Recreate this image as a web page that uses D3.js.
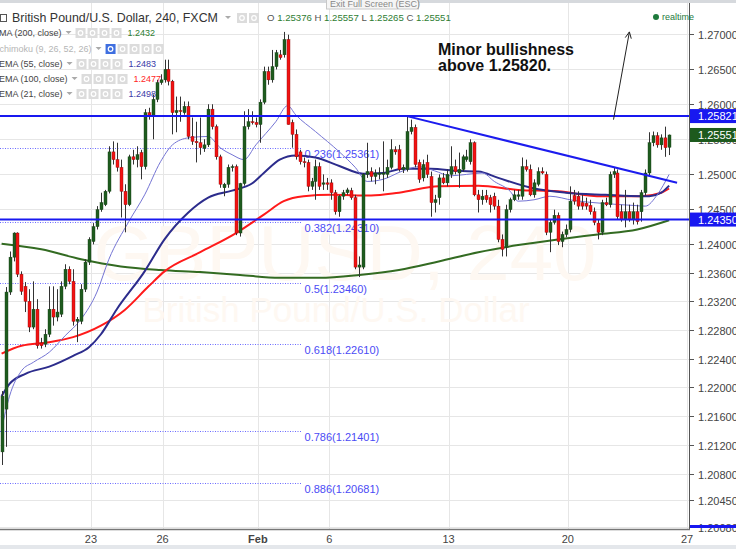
<!DOCTYPE html>
<html><head><meta charset="utf-8">
<script src="https://cdn.jsdelivr.net/npm/d3@7"></script>
<style>
body{margin:0;background:#fff;}
svg{display:block;font-family:"Liberation Sans",Arial,sans-serif;}
</style></head>
<body><svg id="c" width="736" height="549"></svg>
<script>
// ---------- DATA ----------
const open = [1.2111,1.2170,1.2333,1.2382,1.2416,1.2358,1.2341,1.2320,1.2284,1.2309,1.2262,1.2260,1.2274,1.2309,1.2298,1.2302,1.2341,1.2365,1.2348,1.2292,1.2292,1.2337,1.2375,1.2404,1.2425,1.2449,1.2456,1.2475,1.2531,1.2520,1.2509,1.2475,1.2456,1.2524,1.2520,1.2530,1.2510,1.2587,1.2582,1.2606,1.2630,1.2634,1.2649,1.2632,1.2587,1.2590,1.2587,1.2596,1.2553,1.2546,1.2544,1.2536,1.2541,1.2592,1.2567,1.2524,1.2480,1.2485,1.2509,1.2510,1.2416,1.2486,1.2567,1.2574,1.2573,1.2570,1.2602,1.2646,1.2634,1.2653,1.2670,1.2670,1.2692,1.2573,1.2556,1.2531,1.2517,1.2516,1.2482,1.2489,1.2510,1.2485,1.2487,1.2487,1.2473,1.2446,1.2468,1.2473,1.2476,1.2466,1.2368,1.2368,1.2499,1.2503,1.2496,1.2499,1.2499,1.2499,1.2509,1.2534,1.2534,1.2506,1.2506,1.2560,1.2566,1.2516,1.2494,1.2516,1.2496,1.2459,1.2466,1.2494,1.2487,1.2499,1.2510,1.2501,1.2506,1.2520,1.2517,1.2544,1.2470,1.2463,1.2469,1.2466,1.2468,1.2454,1.2407,1.2396,1.2449,1.2463,1.2468,1.2468,1.2510,1.2506,1.2470,1.2485,1.2503,1.2499,1.2417,1.2431,1.2441,1.2404,1.2414,1.2421,1.2469,1.2468,1.2459,1.2458,1.2455,1.2446,1.2430,1.2417,1.2459,1.2456,1.2499,1.2501,1.2446,1.2435,1.2446,1.2435,1.2446,1.2446,1.2473,1.2501,1.2544,1.2554,1.2541,1.2551,1.25376];
const high = [1.2195,1.2340,1.2390,1.2417,1.2417,1.2362,1.2347,1.2337,1.2348,1.2323,1.2269,1.2281,1.2341,1.2341,1.2337,1.2348,1.2372,1.2369,1.2365,1.2298,1.2344,1.2379,1.2410,1.2430,1.2454,1.2473,1.2477,1.2539,1.2546,1.2544,1.2520,1.2485,1.2527,1.2534,1.2539,1.2534,1.2592,1.2594,1.2613,1.2634,1.2642,1.2663,1.2663,1.2634,1.2610,1.2610,1.2603,1.2603,1.2580,1.2574,1.2580,1.2549,1.2599,1.2599,1.2570,1.2527,1.2487,1.2513,1.2513,1.2513,1.2487,1.2589,1.2592,1.2589,1.2580,1.2606,1.2653,1.2653,1.2677,1.2677,1.2677,1.2703,1.2699,1.2577,1.2563,1.2534,1.2523,1.2520,1.2494,1.2520,1.2516,1.2499,1.2494,1.2492,1.2477,1.2470,1.2477,1.2480,1.2480,1.2470,1.2383,1.2501,1.2544,1.2509,1.2506,1.2509,1.2546,1.2520,1.2549,1.2539,1.2541,1.2513,1.2582,1.2577,1.2570,1.2520,1.2520,1.2527,1.2503,1.2470,1.2499,1.2501,1.2506,1.2539,1.2520,1.2530,1.2527,1.2534,1.2549,1.2546,1.2477,1.2477,1.2477,1.2470,1.2473,1.2463,1.2414,1.2456,1.2466,1.2477,1.2477,1.2523,1.2520,1.2513,1.2492,1.2509,1.2509,1.2503,1.2435,1.2449,1.2445,1.2418,1.2428,1.2482,1.2477,1.2475,1.2470,1.2466,1.2463,1.2452,1.2435,1.2463,1.2466,1.2503,1.2509,1.2506,1.2456,1.2477,1.2456,1.2459,1.2456,1.2477,1.2506,1.2559,1.2560,1.2559,1.2556,1.2567,1.25557];
const low = [1.2093,1.2118,1.2329,1.2376,1.2354,1.2329,1.2305,1.2277,1.2281,1.2254,1.2254,1.2256,1.2270,1.2286,1.2292,1.2298,1.2337,1.2344,1.2286,1.2263,1.2288,1.2333,1.2371,1.2400,1.2421,1.2446,1.2454,1.2472,1.2513,1.2503,1.2438,1.2417,1.2454,1.2513,1.2509,1.2492,1.2506,1.2577,1.2549,1.2602,1.2627,1.2630,1.2626,1.2556,1.2559,1.2574,1.2584,1.2549,1.2541,1.2516,1.2527,1.2531,1.2538,1.2563,1.2520,1.2480,1.2468,1.2480,1.2503,1.2413,1.2411,1.2483,1.2563,1.2570,1.2566,1.2544,1.2599,1.2627,1.2630,1.2649,1.2663,1.2666,1.2570,1.2537,1.2520,1.2513,1.2509,1.2475,1.2477,1.2463,1.2477,1.2477,1.2477,1.2463,1.2442,1.2439,1.2463,1.2470,1.2463,1.2365,1.2354,1.2365,1.2494,1.2489,1.2485,1.2492,1.2475,1.2494,1.2506,1.2527,1.2503,1.2501,1.2503,1.2556,1.2509,1.2487,1.2489,1.2494,1.2439,1.2445,1.2456,1.2485,1.2482,1.2494,1.2499,1.2480,1.2503,1.2517,1.2513,1.2468,1.2445,1.2456,1.2459,1.2445,1.2449,1.2403,1.2383,1.2383,1.2445,1.2461,1.2463,1.2463,1.2503,1.2468,1.2466,1.2482,1.2499,1.2413,1.2389,1.2428,1.2399,1.2396,1.2410,1.2417,1.2456,1.2449,1.2449,1.2449,1.2442,1.2427,1.2407,1.2413,1.2454,1.2452,1.2494,1.2435,1.2432,1.2424,1.2432,1.2428,1.2428,1.2432,1.2469,1.2497,1.2539,1.2537,1.2534,1.2524,1.25265];
const close = [1.2188,1.2333,1.2382,1.2416,1.2358,1.2334,1.2320,1.2284,1.2309,1.2258,1.2258,1.2274,1.2309,1.2298,1.2305,1.2341,1.2365,1.2348,1.2292,1.2295,1.2337,1.2375,1.2407,1.2425,1.2449,1.2459,1.2475,1.2531,1.2520,1.2509,1.2475,1.2456,1.2524,1.2520,1.2527,1.2510,1.2587,1.2582,1.2606,1.2630,1.2634,1.2649,1.2632,1.2587,1.2590,1.2589,1.2596,1.2553,1.2546,1.2544,1.2537,1.2541,1.2592,1.2567,1.2524,1.2485,1.2485,1.2509,1.2510,1.2416,1.2486,1.2567,1.2574,1.2573,1.2570,1.2602,1.2646,1.2634,1.2653,1.2673,1.2666,1.2692,1.2570,1.2556,1.2524,1.2517,1.2516,1.2482,1.2489,1.2510,1.2482,1.2487,1.2485,1.2473,1.2446,1.2468,1.2473,1.2477,1.2466,1.2368,1.2371,1.2499,1.2503,1.2496,1.2501,1.2501,1.2501,1.2509,1.2534,1.2531,1.2506,1.2509,1.2560,1.2566,1.2513,1.2492,1.2513,1.2499,1.2459,1.2463,1.2494,1.2487,1.2499,1.2510,1.2503,1.2506,1.2524,1.2524,1.2544,1.2470,1.2463,1.2468,1.2463,1.2456,1.2454,1.2407,1.2393,1.2449,1.2463,1.2470,1.2470,1.2510,1.2506,1.2470,1.2487,1.2503,1.2501,1.2417,1.2431,1.2441,1.2404,1.2414,1.2421,1.2461,1.2461,1.2454,1.2454,1.2454,1.2446,1.2431,1.2417,1.2459,1.2456,1.2499,1.2503,1.2439,1.2435,1.2446,1.2435,1.2446,1.2432,1.2473,1.2501,1.2544,1.2554,1.2541,1.2551,1.2537,1.25551];

// indicator lines: [candle index, price]
const sma200 = [[0,1.2401],[10,1.2393],[20,1.2379],[30,1.2369],[40,1.2364],[50,1.2361],[60,1.2357],[70,1.2353],[80,1.2353],[90,1.2357],[100,1.2364],[110,1.2376],[120,1.2389],[130,1.2399],[140,1.2407],[150,1.2414],[160,1.2421],[168,1.2434]];
const ema100 = [[0,1.2247],[5,1.2258],[12,1.2263],[18,1.2270],[25,1.2286],[31,1.2308],[37,1.2341],[41,1.2362],[50,1.2389],[59,1.2416],[66,1.2442],[71,1.2461],[76,1.2468],[83,1.2470],[93,1.2469],[100,1.2473],[110,1.2482],[120,1.2483],[130,1.2477],[140,1.2475],[151,1.2468],[161,1.2468],[166,1.2473],[168,1.2479]];
const ema55 = [[0,1.2188],[2,1.2205],[6,1.2219],[12,1.2229],[18,1.2244],[22,1.2256],[25,1.2274],[29,1.2309],[36,1.2362],[41,1.2407],[47,1.2445],[52,1.2466],[58,1.2476],[63,1.2486],[66,1.2501],[70,1.2520],[74,1.2526],[79,1.2523],[85,1.2511],[91,1.2500],[96,1.2501],[101,1.2507],[108,1.2507],[115,1.2504],[120,1.2503],[125,1.2494],[134,1.2479],[142,1.2473],[152,1.2470],[161,1.2468],[163,1.2468],[166,1.2473],[168,1.2483]];
const ema21 = [[0,1.2142],[2,1.2188],[5,1.2223],[8,1.2235],[12,1.2249],[16,1.2272],[20,1.2295],[24,1.2333],[27,1.2379],[32,1.2432],[36,1.2470],[40,1.2517],[43,1.2541],[47,1.2551],[52,1.2553],[55,1.2537],[58,1.2527],[61,1.2520],[64,1.2541],[69,1.2574],[72,1.2597],[74,1.2584],[79,1.2560],[85,1.2531],[89,1.2509],[92,1.2489],[96,1.2492],[101,1.2504],[105,1.2510],[109,1.2504],[113,1.2497],[117,1.2499],[121,1.2501],[124,1.2489],[128,1.2475],[130,1.2461],[134,1.2463],[138,1.2468],[144,1.2462],[151,1.2458],[159,1.2455],[162,1.2454],[165,1.2470],[168,1.2499]];

const yTicks = [1.27,1.265,1.26,1.255,1.25,1.245,1.24,1.236,1.232,1.228,1.224,1.22,1.216,1.212,1.208,1.2045,1.2008];
const dayLabels = ["23","26","Feb","6","13","20","27"];
const dayIndex = [22.5,40.5,64.5,82.5,112.5,142.5,172.5];

const levelPrices = [1.25821, 1.2435];
const fibRatios = ["0.236","0.382","0.5","0.618","0.786","0.886"];
const fibPrices = [1.25361,1.2431,1.2346,1.2261,1.21401,1.20681];
const fibRange = [-0.4, 75.5];
const trendIdx = [102,170], trendPrice = [1.2582,1.2487];
const arrowIdx = [154,158], arrowPrice = [1.2577,1.2703];

const legendRows = [
  {name:"MA (200, close)", value:"1.2432", color:"#2e7d32"},
  {name:"Ichimoku (9, 26, 52, 26)", value:"", color:"#aaa"},
  {name:"EMA (55, close)", value:"1.2483", color:"#3a3aa8"},
  {name:"EMA (100, close)", value:"1.2477", color:"#ff1f1f"},
  {name:"EMA (21, close)", value:"1.2498", color:"#3a3aa8"}
];
const ohlcLabels = ["O","H","L","C"];
const ohlcValues = ["1.25376","1.25557","1.25265","1.25551"];

// ---------- CHART ----------
const svg = d3.select("#c");
const PR = 689, PB = 529;
const x = d3.scaleLinear().domain([-0.4,173]).range([0,PR]);
const y = d3.scaleLog().domain([1.200672,1.274916]).range([528,0]);

svg.append("rect").attr("width",736).attr("height",549).attr("fill","#fff");
svg.append("defs").append("clipPath").attr("id","plot").append("rect").attr("width",PR).attr("height",PB);

// grid
const grid = svg.append("g").attr("clip-path","url(#plot)");
grid.selectAll(".hg").data(yTicks).enter().append("line")
  .attr("x1",0).attr("x2",PR).attr("y1",d=>Math.round(y(d))+0.5).attr("y2",d=>Math.round(y(d))+0.5)
  .attr("stroke","#e6e6e6");
grid.selectAll(".vg").data(dayIndex).enter().append("line")
  .attr("y1",0).attr("y2",PB).attr("x1",d=>Math.round(x(d))+0.5).attr("x2",d=>Math.round(x(d))+0.5)
  .attr("stroke","#e6e6e6");

// watermark
const wm = svg.append("g").attr("fill","#fef8f2").attr("text-anchor","middle");
wm.append("text").attr("x",345).attr("y",280).attr("font-size",78).text("GBPUSD, 240");
wm.append("text").attr("x",336).attr("y",322).attr("font-size",35).text("British Pound/U.S. Dollar");

const plot = svg.append("g").attr("clip-path","url(#plot)");

// fib lines
fibPrices.forEach((p,i)=>{
  const yy = Math.round(y(p))+0.5;
  plot.append("line").attr("x1",x(fibRange[0])).attr("x2",x(fibRange[1])).attr("y1",yy).attr("y2",yy)
    .attr("stroke","#6b6bff").attr("stroke-dasharray","1,1.5");
  plot.append("text").attr("x",x(fibRange[1])+3).attr("y",yy+9).attr("font-size",11).attr("fill","#4b4bf5")
    .text(fibRatios[i]+"("+d3.format(".5f")(p)+")");
});

// indicator lines
const line = d3.line().x(d=>x(d[0])).y(d=>y(d[1])).curve(d3.curveMonotoneX);
plot.append("path").datum(sma200).attr("d",line).attr("fill","none").attr("stroke","#336b22").attr("stroke-width",2);
plot.append("path").datum(ema100).attr("d",line).attr("fill","none").attr("stroke","#ff1a1a").attr("stroke-width",2);
plot.append("path").datum(ema55).attr("d",line).attr("fill","none").attr("stroke","#2c2c8c").attr("stroke-width",2);
plot.append("path").datum(ema21).attr("d",line).attr("fill","none").attr("stroke","#7474d4").attr("stroke-width",1);

// candles
const idx = d3.range(open.length);
const cg = plot.append("g");
cg.selectAll(".w").data(idx).enter().append("line")
  .attr("x1",i=>Math.round(x(i))+0.5).attr("x2",i=>Math.round(x(i))+0.5)
  .attr("y1",i=>y(high[i])).attr("y2",i=>y(low[i])).attr("stroke","#333").attr("stroke-width",1);
cg.selectAll(".b").data(idx).enter().append("rect")
  .attr("x",i=>Math.round(x(i))-1).attr("width",3)
  .attr("y",i=>y(Math.max(open[i],close[i])))
  .attr("height",i=>Math.max(1,Math.abs(y(open[i])-y(close[i]))))
  .attr("fill",i=>close[i]>=open[i]?"#1e5c1e":"#f21212")
  .attr("stroke",i=>close[i]>=open[i]?"#143f14":"#8a0c0c").attr("stroke-width",0.4);

// horizontal levels
levelPrices.forEach(p=>{
  plot.append("line").attr("x1",0).attr("x2",PR).attr("y1",y(p)).attr("y2",y(p)).attr("stroke","#1818f0").attr("stroke-width",2);
});
// trendline
plot.append("line").attr("x1",x(trendIdx[0])).attr("y1",y(trendPrice[0])).attr("x2",x(trendIdx[1])).attr("y2",y(trendPrice[1]))
  .attr("stroke","#1c1cee").attr("stroke-width",2);
// arrow
const x1=x(arrowIdx[0]),y1=y(arrowPrice[0]),x2=x(arrowIdx[1]),y2=y(arrowPrice[1]);
const ang=Math.atan2(y2-y1,x2-x1);
svg.append("line").attr("x1",x1).attr("y1",y1).attr("x2",x2).attr("y2",y2).attr("stroke","#222").attr("stroke-width",1);
[0.45,-0.45].forEach(a=>{
  svg.append("line").attr("x1",x2).attr("y1",y2)
    .attr("x2",x2-7*Math.cos(ang+a)).attr("y2",y2-7*Math.sin(ang+a)).attr("stroke","#222");
});

// annotation
const ann = svg.append("text").attr("font-size",16).attr("font-weight","bold").attr("fill","#111");
ann.append("tspan").attr("x",438).attr("y",55).text("Minor bullishness");
ann.append("tspan").attr("x",438).attr("y",71).text("above 1.25820.");

// axes
svg.append("line").attr("x1",PR+0.5).attr("x2",PR+0.5).attr("y1",0).attr("y2",PB).attr("stroke","#555");
svg.append("line").attr("x1",0).attr("x2",PR+1).attr("y1",PB+0.5).attr("y2",PB+0.5).attr("stroke","#777").attr("stroke-width",1.5);
const ya = svg.append("g");
yTicks.forEach(t=>{
  const yy=Math.round(y(t))+0.5;
  ya.append("line").attr("x1",PR).attr("x2",PR+5).attr("y1",yy).attr("y2",yy).attr("stroke","#555");
  ya.append("text").attr("x",PR+9).attr("y",yy+4).attr("font-size",11).attr("fill","#444").text(d3.format(".5f")(t));
});
dayIndex.forEach((d,i)=>{
  svg.append("text").attr("x",x(d)).attr("y",543).attr("text-anchor","middle").attr("font-size",11)
    .attr("fill","#444").attr("font-weight",dayLabels[i]==="Feb"?"bold":"normal").text(dayLabels[i]);
});
svg.append("rect").attr("x",0).attr("y",545).attr("width",736).attr("height",4).attr("fill","#e4e7eb");

// price boxes
function pbox(p,fill){
  const yy=y(p);
  svg.append("rect").attr("x",PR+1).attr("y",yy-7).attr("width",736-PR).attr("height",14).attr("fill",fill);
  svg.append("text").attr("x",PR+9).attr("y",yy+4).attr("font-size",11).attr("fill","#fff").text(d3.format(".5f")(p));
}
pbox(levelPrices[0],"#1818f0");
pbox(close[close.length-1],"#1d5a1d");
pbox(levelPrices[1],"#1818f0");
svg.append("rect").attr("x",PR+1).attr("y",525).attr("width",736-PR).attr("height",3).attr("fill","#1818f0");

// header
svg.append("rect").attr("x",0).attr("y",0).attr("width",736).attr("height",3).attr("fill","#d6d9dd");
const tip = svg.append("g");
tip.append("rect").attr("x",326.5).attr("y",-3).attr("width",92).attr("height",12).attr("fill","#f5f5f5").attr("stroke","#c8c8c8");
tip.append("text").attr("x",330).attr("y",7).attr("font-size",9).attr("fill","#888").text("Exit Full Screen (ESC)");

svg.append("rect").attr("x",0.5).attr("y",14.5).attr("width",6).attr("height",7).attr("fill","none").attr("stroke","#555");
svg.append("text").attr("x",12).attr("y",22).attr("font-size",12.4).attr("fill","#333").text("British Pound/U.S. Dollar, 240, FXCM");

function caret(cx,cy){svg.append("path").attr("d",`M${cx-3},${cy-2}L${cx+3},${cy-2}L${cx},${cy+1}Z`).attr("fill","#aaa");}
function icons(x0,cy,n,first){
  for(let k=0;k<n;k++){
    const bx=x0+k*12;
    svg.append("rect").attr("x",bx).attr("y",cy-5).attr("width",10).attr("height",10).attr("fill",(k===0&&first)?"#3f6fe0":"#dcdcdc");
    svg.append("circle").attr("cx",bx+5).attr("cy",cy).attr("r",2.3).attr("fill","none").attr("stroke","#fff").attr("stroke-width",1.2);
  }
}
caret(228,18); icons(237,18,2,false);
const ohlc = svg.append("text").attr("x",267).attr("y",21).attr("font-size",9.6);
ohlcLabels.forEach((l,i)=>{
  ohlc.append("tspan").attr("fill","#555").text((i?" ":"")+l+" ");
  ohlc.append("tspan").attr("fill","#2e7d32").text(ohlcValues[i]);
});

const rowY=[36,52,67,82,97];
legendRows.forEach((r,i)=>{
  const t=svg.append("text").attr("x",i===1?-3:-1).attr("y",rowY[i]).attr("font-size",9).attr("fill",i===1?"#b5b5b5":"#444").text(r.name);
  const w=t.node().getComputedTextLength()+(i===1?-3:-1);
  caret(w+7,rowY[i]-3);
  const ix=w+14;
  if(i===1){ icons(ix,rowY[i]-3,5,true); }
  else{
    icons(ix,rowY[i]-3,4,false);
    svg.append("text").attr("x",ix+52).attr("y",rowY[i]).attr("font-size",9).attr("fill",r.color).text(r.value);
  }
});

// realtime
svg.append("circle").attr("cx",656).attr("cy",17).attr("r",3).attr("fill","#1e7a3c");
svg.append("text").attr("x",662).attr("y",20).attr("font-size",9).attr("fill","#1e7a3c").text("realtime");
</script></body></html>
